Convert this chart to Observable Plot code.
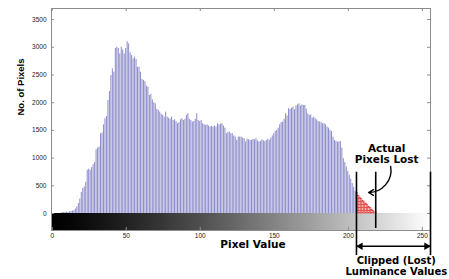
<!DOCTYPE html>
<html>
<head>
<meta charset="utf-8">
<script src="https://cdn.jsdelivr.net/npm/d3@7"></script>
<script src="https://cdn.jsdelivr.net/npm/@observablehq/plot@0.6"></script>
<style>
  body { margin: 0; background: white; }
  #chart svg { display: block; }
</style>
</head>
<body>
<div id="chart"></div>
<script>
// ---- data ----
// pixel counts for pixel values 0..205 (kept in range)
const keptCounts = [
  0,0,0,0,0,0,0,
  20,15,20,25,20,30,35,45,50,80,120,
  180,260,380,450,480,560,780,800,780,830,880,920,
  1150,1180,1200,1440,1450,1600,1710,1750,2040,2200,2490,2610,2550,
  2980,3000,2980,2880,3000,2950,2880,2980,3100,3060,2900,2850,2790,2820,2780,
  2640,2640,2550,2420,2400,2380,2300,2280,2130,2150,2050,2000,1980,1880,1860,1830,1790,1770,1740,
  1830,1740,1720,1700,1740,1680,1690,1660,1620,1640,1690,1710,1680,1700,1770,1800,1700,1680,1650,1660,1700,1800,1680,1660,
  1680,1620,1600,1590,1600,1580,1560,1570,1560,1580,1560,1620,1600,1610,1620,1580,1540,
  1440,1460,1470,1440,1440,1400,1380,1320,1380,1380,1380,1360,1350,1290,1340,1330,1320,1320,1340,1330,1350,1310,1290,1300,1330,1310,1300,1320,1340,1320,
  1360,1400,1440,1480,1500,1540,1600,1640,1650,1700,1800,1760,1890,1880,1900,1920,1870,1940,1960,1980,1940,1960,1950,1950,1880,1800,1770,1780,1720,1740,1710,1690,1660,1650,1640,1620,1620,1600,1560,1540,1500,1480,
  1380,1320,1300,1290,1290,1300,1180,990,920,840,760,690,620,540,470,400
];
// pixel counts for values 206..219 (clipped / lost)
const clippedStart = 206;
const clippedCounts = [370,320,290,260,230,200,180,150,120,100,70,45,20,10];

const xTicks = [0, 50, 100, 150, 200, 250];
const yTicks = [0, 500, 1000, 1500, 2000, 2500, 3000, 3500];
const xDomain = [-0.5, 255.5];
const yDomain = [-307, 3700];

const clipLines = [205.5, 218.5, 255.5];
const xLabel = "Pixel Value";
const yLabel = "No. of Pixels";
const noteTop = ["Actual", "Pixels Lost"];
const noteBottom = ["Clipped (Lost)", "Luminance Values"];

// ---- derived tables ----
const kept = keptCounts.map((c, i) => ({v: i, c}));
const clipped = clippedCounts.map((c, i) => ({v: clippedStart + i, c}));
const levels = d3.range(256);
const gray = v => { const g = Math.round(255 * Math.pow(v / 255, 1.25)); return `rgb(${g},${g},${g})`; };
const bold = "'DejaVu Sans', sans-serif";

const plot = Plot.plot({
  width: 449,
  height: 279,
  marginLeft: 51,
  marginRight: 19,
  marginTop: 8,
  marginBottom: 49,
  style: {fontFamily: "'Liberation Sans', Arial, sans-serif", fontSize: "6.5px", background: "white", color: "#222"},
  x: {domain: xDomain, axis: null},
  y: {domain: yDomain, axis: null},
  marks: [
    // grayscale strip under the axis
    Plot.rect(levels, {x1: d => d - 0.5, x2: d => d + 0.5, y1: yDomain[0], y2: 0, fill: d => gray(d), shapeRendering: "crispEdges"}),
    // histogram bars
    Plot.rectY(kept, {x1: d => d.v - 0.5, x2: d => d.v + 0.5, y: "c", fill: "#8e8ecb", insetLeft: 0.15, insetRight: 0.3}),
    Plot.rectY(clipped, {x1: d => d.v - 0.5, x2: d => d.v + 0.5, y: "c", fill: "url(#hatch)", stroke: "#e03a3a", strokeWidth: 0.5}),
    Plot.frame({stroke: "#8c8c8c"}),
    // inward ticks
    Plot.ruleY(yTicks, {x1: xDomain[0], x2: xDomain[0] + 2, stroke: "#8c8c8c"}),
    Plot.ruleY(yTicks, {x1: xDomain[1] - 2, x2: xDomain[1], stroke: "#8c8c8c"}),
    Plot.ruleX(xTicks, {y1: yDomain[1], y2: yDomain[1] - 55, stroke: "#8c8c8c"}),
    Plot.ruleX(xTicks, {y1: yDomain[0], y2: yDomain[0] + 55, stroke: "#8c8c8c"}),
    Plot.axisY(yTicks, {tickSize: 0, tickPadding: 5, label: null, fontSize: 6.5, tickFormat: d => String(d)}),
    Plot.axisX(xTicks, {tickSize: 0, tickPadding: 3, label: null, fontSize: 6.5, tickFormat: d => String(d)}),
    // clipping annotation lines
    Plot.ruleX([clipLines[0], clipLines[2]], {y1: 745, y2: -760, stroke: "black", strokeWidth: 1.6}),
    Plot.ruleX([clipLines[1]], {y1: 745, y2: -270, stroke: "black", strokeWidth: 1.6}),
    Plot.ruleY([-590], {x1: clipLines[0], x2: clipLines[2], stroke: "black", strokeWidth: 1.5}),
    Plot.dot([clipLines[0]], {x: d => d, y: -590, symbol: "triangle2", r: 3.6, rotate: -90, dx: 4, fill: "black"}),
    Plot.dot([clipLines[2]], {x: d => d, y: -590, symbol: "triangle2", r: 3.6, rotate: 90, dx: -4, fill: "black"}),
    Plot.arrow([0], {x1: 228.6, y1: 848, x2: 213.7, y2: 379, bend: 50, headLength: 6, stroke: "black", strokeWidth: 1.4}),
    // text
    Plot.text(noteTop, {x: 225.9, y: (d, i) => [1165, 975][i], text: d => d, fontFamily: bold, fontWeight: "bold", fontSize: 10.5, fill: "black"}),
    Plot.text(noteBottom, {x: 232.4, y: (d, i) => [-848, -1047][i], text: d => d, fontFamily: bold, fontWeight: "bold", fontSize: 10, fill: "black"}),
    Plot.text([xLabel], {x: 135.6, y: -569, text: d => d, fontFamily: bold, fontWeight: "bold", fontSize: 10.5, fill: "black"}),
    Plot.text([yLabel], {frameAnchor: "left", dx: -31, dy: -4, rotate: -90, text: d => d, fontWeight: "bold", fontSize: 9.5, fill: "black"})
  ]
});

// hatch pattern for the clipped (red) bars
const svg = d3.select(plot);
const defs = svg.insert("defs", ":first-child");
const pat = defs.append("pattern").attr("id", "hatch").attr("patternUnits", "userSpaceOnUse").attr("width", 3).attr("height", 3);
pat.append("rect").attr("width", 3).attr("height", 3).attr("fill", "#f7c4c4");
pat.append("path").attr("d", "M0,0.5H3").attr("stroke", "#e03030").attr("stroke-width", 0.7);

document.getElementById("chart").appendChild(plot);
</script>
</body>
</html>
